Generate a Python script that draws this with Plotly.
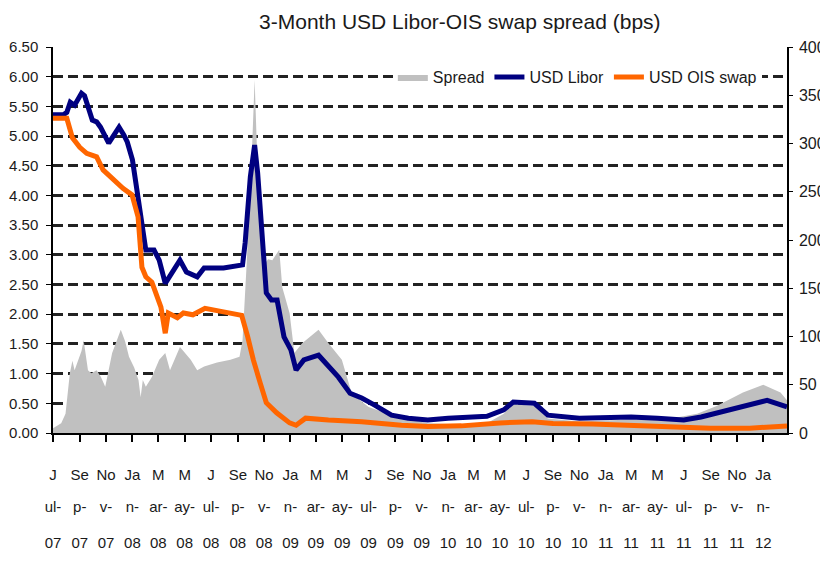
import plotly.graph_objects as go

# ---------------- data ----------------
libor_dates = ["2007-07-01","2007-07-25","2007-08-02","2007-08-10","2007-08-20","2007-09-05","2007-09-12",
               "2007-09-20","2007-09-30","2007-10-10","2007-10-19","2007-11-07","2007-11-15","2007-12-01",
               "2007-12-12","2007-12-20","2008-01-01","2008-01-12","2008-01-24","2008-02-01","2008-02-20",
               "2008-03-03","2008-03-17","2008-04-01","2008-04-20","2008-05-05","2008-05-30","2008-06-15",
               "2008-07-30","2008-09-12","2008-09-18","2008-09-30","2008-10-10","2008-10-17","2008-10-26",
               "2008-11-06","2008-11-18","2008-12-01","2008-12-17","2009-01-02","2009-01-14","2009-02-01",
               "2009-03-07","2009-03-23","2009-04-22","2009-05-19","2009-06-15","2009-07-15","2009-08-23",
               "2009-10-01","2009-11-15","2010-01-01","2010-04-01","2010-05-10","2010-06-01","2010-07-20",
               "2010-08-20","2010-11-01","2011-03-01","2011-05-01","2011-07-01","2011-08-10","2011-09-15",
               "2011-12-15","2012-01-10","2012-02-25"]
libor_values = [5.36,5.36,5.40,5.57,5.52,5.72,5.68,
                5.49,5.27,5.24,5.15,4.88,4.97,5.15,
                5.02,4.90,4.60,4.09,3.47,3.08,3.08,
                2.91,2.52,2.71,2.91,2.71,2.63,2.78,
                2.78,2.83,3.20,4.31,4.85,4.38,3.47,
                2.36,2.24,2.24,1.62,1.40,1.06,1.23,
                1.31,1.18,0.94,0.67,0.59,0.47,0.30,
                0.25,0.22,0.25,0.28,0.39,0.52,0.50,
                0.30,0.25,0.27,0.25,0.22,0.27,0.34,
                0.50,0.55,0.44]

ois_dates = ["2007-07-01","2007-08-02","2007-08-15","2007-09-01","2007-09-17","2007-10-10","2007-10-25",
             "2007-11-18","2007-12-10","2007-12-31","2008-01-14","2008-01-23","2008-02-01","2008-02-15",
             "2008-03-07","2008-03-17","2008-03-24","2008-04-14","2008-04-28","2008-05-20","2008-06-17",
             "2008-07-30","2008-09-10","2008-09-24","2008-10-07","2008-10-23","2008-11-06","2008-11-30",
             "2008-12-30","2009-01-14","2009-02-05","2009-03-30","2009-06-15","2009-09-15","2009-11-15",
             "2010-02-01","2010-05-01","2010-07-15","2010-09-01","2010-12-01","2011-03-01","2011-06-01",
             "2011-09-01","2011-12-01","2012-02-01","2012-02-25"]
ois_values = [5.30,5.30,4.97,4.81,4.71,4.65,4.43,
              4.26,4.12,4.01,3.64,2.79,2.63,2.54,
              2.12,1.68,2.02,1.94,2.02,1.99,2.10,
              2.04,1.98,1.62,1.23,0.84,0.51,0.34,
              0.17,0.13,0.25,0.22,0.19,0.13,0.11,
              0.12,0.17,0.19,0.16,0.15,0.13,0.09,
              0.08,0.08,0.10,0.12]

spread_dates = ["2007-07-01","2007-07-20","2007-07-30","2007-08-09","2007-08-15","2007-08-20","2007-09-05",
                "2007-09-10","2007-09-20","2007-09-28","2007-10-10","2007-10-20","2007-10-30","2007-11-15",
                "2007-12-05","2007-12-15","2007-12-24","2008-01-05","2008-01-15","2008-01-20","2008-01-25",
                "2008-02-01","2008-02-15","2008-03-03","2008-03-17","2008-03-28","2008-04-20","2008-05-15",
                "2008-05-30","2008-06-15","2008-07-15","2008-08-15","2008-09-05","2008-09-12","2008-09-22",
                "2008-10-03","2008-10-10","2008-10-17","2008-10-28","2008-11-10","2008-11-20","2008-12-06",
                "2008-12-13","2008-12-30","2009-01-10","2009-01-28","2009-03-07","2009-03-30","2009-04-30",
                "2009-05-23","2009-07-01","2009-09-01","2009-11-15","2010-01-15","2010-04-01","2010-05-10",
                "2010-06-01","2010-07-20","2010-08-20","2010-11-01","2011-03-01","2011-06-01","2011-08-01",
                "2011-09-15","2011-11-15","2012-01-01","2012-02-10","2012-02-25"]
spread_values = [5,10,20,62,75,65,85,
                 96,65,62,65,58,48,83,
                 107,95,79,68,55,37,55,
                 48,58,76,83,65,89,76,
                 65,69,73,76,79,96,179,
                 283,366,272,172,180,179,190,
                 151,124,83,93,107,93,76,
                 41,27,17,10,9,10,20,
                 30,28,15,12,14,15,20,
                 28,42,50,42,34]

tick_dates = ["2007-07-01","2007-09-01","2007-11-01","2008-01-01","2008-03-01","2008-05-01","2008-07-01",
              "2008-09-01","2008-11-01","2009-01-01","2009-03-01","2009-05-01","2009-07-01","2009-09-01",
              "2009-11-01","2010-01-01","2010-03-01","2010-05-01","2010-07-01","2010-09-01","2010-11-01",
              "2011-01-01","2011-03-01","2011-05-01","2011-07-01","2011-09-01","2011-11-01","2012-01-01"]
tick_row1 = ["J","Se","No","Ja","M","M"] * 4 + ["J","Se","No","Ja"]
tick_row2 = ["ul-","p-","v-","n-","ar-","ay-"] * 4 + ["ul-","p-","v-","n-"]
tick_row3 = ["07","07","07","08","08","08","08","08","08","09","09","09","09","09",
             "09","10","10","10","10","10","10","11","11","11","11","11","11","12"]

x_range = ["2007-07-01", "2012-02-25"]
left_ticks = [i * 0.5 for i in range(14)]
right_ticks = list(range(0, 401, 50))

FONT = "Liberation Sans, Arial, sans-serif"
TXT = "#1a1a1a"

fig = go.Figure()
fig.add_trace(go.Scatter(x=spread_dates, y=spread_values, name="Spread", mode="lines",
                         line=dict(width=0, color="#c0c0c0"), fill="tozeroy",
                         fillcolor="#c0c0c0", xaxis="x", yaxis="y"))
fig.add_trace(go.Scatter(x=libor_dates, y=libor_values, name="USD Libor", mode="lines",
                         line=dict(width=5, color="#000080"), xaxis="x", yaxis="y2"))
fig.add_trace(go.Scatter(x=ois_dates, y=ois_values, name="USD OIS swap", mode="lines",
                         line=dict(width=5, color="#ff6600"), xaxis="x", yaxis="y2"))
# empty helper traces so that the 2nd and 3rd tick-label rows (extra x axes) are drawn
for ax in ("x2", "x3"):
    fig.add_trace(go.Scatter(x=tick_dates, y=[None] * len(tick_dates), mode="markers",
                             xaxis=ax, yaxis="y2", showlegend=False, hoverinfo="skip",
                             marker=dict(opacity=0)))

common_x = dict(type="date", range=x_range, tickmode="array", tickvals=tick_dates,
                tickfont=dict(family=FONT, size=15, color=TXT), showgrid=False, zeroline=False)

fig.update_layout(
    width=820, height=553,
    margin=dict(l=45, r=41, t=39, b=128, autoexpand=False),
    paper_bgcolor="white", plot_bgcolor="white",
    title=dict(text="3-Month USD Libor-OIS swap spread (bps)", x=0.551, xanchor="center",
               y=0.975, yanchor="middle", font=dict(family=FONT, size=21, color=TXT)),
    xaxis=dict(**common_x, ticktext=tick_row1, ticks="outside", ticklen=7, tickwidth=1.5,
               tickcolor="black", showline=True, linecolor="black", linewidth=1.5,
               ticklabelstandoff=20),
    xaxis2=dict(**common_x, ticktext=tick_row2, overlaying="x", anchor="y", side="bottom",
                ticks="", showline=False, ticklabelstandoff=63),
    xaxis3=dict(**common_x, ticktext=tick_row3, overlaying="x", anchor="y", side="bottom",
                ticks="", showline=False, ticklabelstandoff=99),
    yaxis=dict(range=[0, 400], tickmode="array", tickvals=right_ticks,
               ticktext=[str(v) for v in right_ticks], side="right",
               ticks="outside", ticklen=4, tickcolor="black", showline=True,
               linecolor="black", linewidth=1.5, showgrid=False, zeroline=False,
               ticklabelstandoff=3,
               tickfont=dict(family=FONT, size=16, color=TXT)),
    yaxis2=dict(range=[0, 6.5], tickmode="array", tickvals=left_ticks,
                ticktext=[f"{v:.2f}" for v in left_ticks], side="left", overlaying="y",
                ticks="outside", ticklen=5, tickcolor="black", showline=True,
                linecolor="black", linewidth=1.5, showgrid=True, gridcolor="#222222",
                gridwidth=2.5, griddash="10px,5px", zeroline=False, ticklabelstandoff=5,
                tickfont=dict(family=FONT, size=15, color=TXT)),
    legend=dict(orientation="h", x=0.463, y=0.922, xanchor="left", yanchor="middle",
                bgcolor="white", font=dict(family=FONT, size=16, color=TXT),
                traceorder="normal", itemwidth=30, tracegroupgap=0),
    showlegend=True,
)

fig.write_html("out.html")
